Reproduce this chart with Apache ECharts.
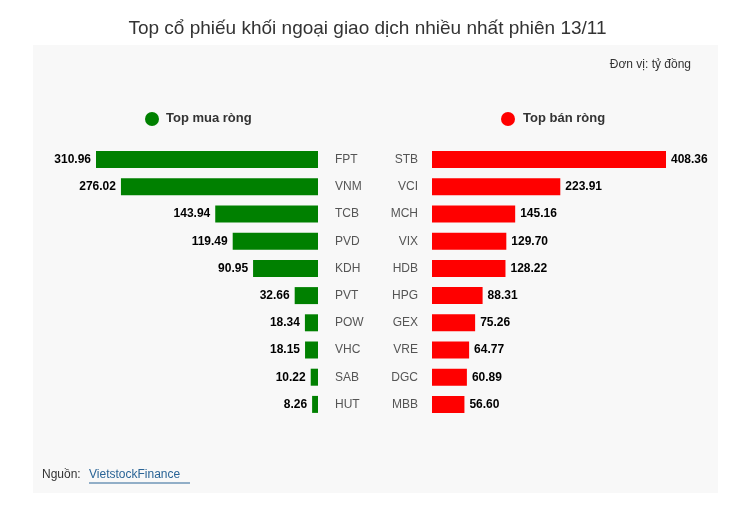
<!DOCTYPE html>
<html><head><meta charset="utf-8">
<script src="https://cdn.jsdelivr.net/npm/echarts@6/dist/echarts.min.js"></script>
<style>html,body{margin:0;padding:0;background:#fff}#c{width:735px;height:510px}</style>
</head><body><div id="c"></div>
<script>
const buyNames = ["FPT","VNM","TCB","PVD","KDH","PVT","POW","VHC","SAB","HUT"];
const buyValues = [310.96,276.02,143.94,119.49,90.95,32.66,18.34,18.15,10.22,8.26];
const sellNames = ["STB","VCI","MCH","VIX","HDB","HPG","GEX","VRE","DGC","MBB"];
const sellValues = [408.36,223.91,145.16,129.70,128.22,88.31,75.26,64.77,60.89,56.60];

const chart = echarts.init(document.getElementById('c'));
const font = 'Arial, Liberation Sans, sans-serif';
const lab = {show:true, fontWeight:'bold', fontSize:12, color:'#000', fontFamily:font, formatter:p=>p.value.toFixed(2)};
chart.setOption({
  animation:false,
  title:{text:'Top cổ phiếu khối ngoại giao dịch nhiều nhất phiên 13/11', left:'center', top:14,
    textStyle:{fontSize:19, fontWeight:'normal', color:'#333', fontFamily:font}},
  graphic:[
    {type:'rect', z:-10, shape:{x:33,y:45,width:685,height:448}, style:{fill:'#f8f8f8'}},
    {type:'text', right:44, top:59, style:{text:'Đơn vị: tỷ đồng', fontSize:12, fill:'#333', fontFamily:font}},
    {type:'circle', shape:{cx:152,cy:119,r:7}, style:{fill:'#008000'}},
    {type:'text', left:166, top:112, style:{text:'Top mua ròng', fontSize:13, fontWeight:'bold', fill:'#333', fontFamily:font}},
    {type:'circle', shape:{cx:508,cy:119,r:7}, style:{fill:'#ff0000'}},
    {type:'text', left:523, top:112, style:{text:'Top bán ròng', fontSize:13, fontWeight:'bold', fill:'#333', fontFamily:font}},
    {type:'text', left:42, top:469, style:{text:'Nguồn: ', fontSize:12, fill:'#333', fontFamily:font}},
    {type:'text', left:89, top:469, style:{text:'VietstockFinance', fontSize:12, fill:'#2a6496', fontFamily:font}},
    {type:'line', shape:{x1:89,y1:483,x2:190,y2:483}, style:{stroke:'#2a6496', lineWidth:1}}
  ],
  grid:[
    {left:96, width:222, top:146, height:272},
    {left:432, width:234, top:146, height:272}
  ],
  xAxis:[
    {gridIndex:0, type:'value', min:0, max:310.96, inverse:true, show:false},
    {gridIndex:1, type:'value', min:0, max:408.36, show:false}
  ],
  yAxis:[
    {gridIndex:0, type:'category', data:buyNames, inverse:true, position:'right',
     axisLine:{show:false}, axisTick:{show:false},
     axisLabel:{margin:17, color:'#555', fontSize:12, fontFamily:font}},
    {gridIndex:1, type:'category', data:sellNames, inverse:true, position:'left',
     axisLine:{show:false}, axisTick:{show:false},
     axisLabel:{margin:14, color:'#555', fontSize:12, fontFamily:font}}
  ],
  series:[
    {type:'bar', xAxisIndex:0, yAxisIndex:0, data:buyValues, barWidth:17,
     itemStyle:{color:'#008000'}, label:Object.assign({position:'left', distance:5}, lab)},
    {type:'bar', xAxisIndex:1, yAxisIndex:1, data:sellValues, barWidth:17,
     itemStyle:{color:'#ff0000'}, label:Object.assign({position:'right', distance:5}, lab)}
  ]
});
</script></body></html>
